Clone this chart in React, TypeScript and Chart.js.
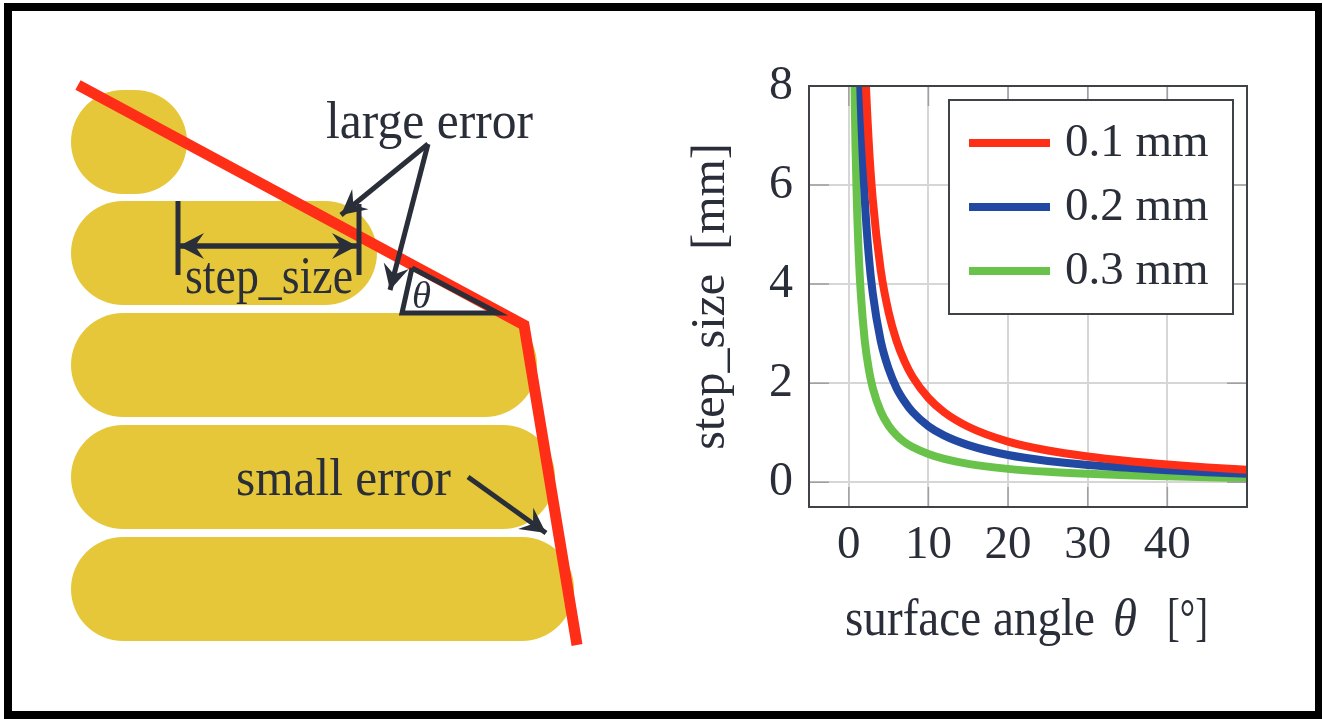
import React, { useEffect, useRef } from "react";
import { Chart, registerables } from "chart.js";

Chart.register(...registerables);

// ---------- right-hand chart data ----------
const angles = [0.5, 0.75, 1, 1.25, 1.5, 2, 2.5, 3, 4, 5, 6, 7, 8, 10, 12, 15, 20, 25, 30, 35, 40, 45, 50];
const seriesRed = [34, 23, 17.2, 13.7, 11.4, 8.6, 6.87, 5.72, 4.29, 3.43, 2.85, 2.44, 2.13, 1.7, 1.41, 1.12, 0.82, 0.64, 0.52, 0.43, 0.36, 0.3, 0.25];
const seriesBlue = [23, 15.3, 11.5, 9.17, 7.64, 5.73, 4.58, 3.82, 2.86, 2.29, 1.9, 1.63, 1.42, 1.13, 0.94, 0.75, 0.55, 0.43, 0.35, 0.29, 0.24, 0.2, 0.17];
const seriesGreen = [11.5, 7.64, 5.73, 4.58, 3.82, 2.86, 2.29, 1.91, 1.43, 1.14, 0.95, 0.81, 0.71, 0.57, 0.47, 0.37, 0.27, 0.21, 0.17, 0.14, 0.12, 0.1, 0.08];
const legendLabels = ["0.1 mm", "0.2 mm", "0.3 mm"];
const xTitleRuns = [
  { text: "surface angle", italic: false, x: 0, width: 250 },
  { text: "\u03B8", italic: true, x: 268, width: 24 },
  { text: "[\u00B0]", italic: false, x: 322, width: 41 },
];
const yTitle = "step_size  [mm]";

// ---------- left-hand diagram data (diagram units) ----------
const beadSpans = [
  { y: 142, x0: 123, x1: 135 },
  { y: 253, x0: 123, x1: 325 },
  { y: 365, x0: 123, x1: 485 },
  { y: 477, x0: 123, x1: 503 },
  { y: 589, x0: 123, x1: 522 },
];
const surfacePath = [{ x: 78, y: 85 }, { x: 524, y: 325 }, { x: 577, y: 645 }];
const stepLeft = [{ x: 178, y: 201 }, { x: 178, y: 275 }];
const stepRight = [{ x: 359, y: 204 }, { x: 359, y: 275 }];
const angleMark = [{ x: 412, y: 268 }, { x: 402, y: 313 }, { x: 498, y: 313 }, { x: 412, y: 268 }];
const arrowSegments = [
  { from: { x: 180, y: 246 }, to: { x: 357, y: 246 } },
  { from: { x: 357, y: 246 }, to: { x: 179, y: 246 } },
  { from: { x: 428, y: 144 }, to: { x: 341, y: 215 } },
  { from: { x: 428, y: 144 }, to: { x: 390, y: 290 } },
  { from: { x: 468, y: 477 }, to: { x: 546, y: 533 } },
];
const diagramLabels = [
  { text: "large error", x: 326, y: 138, width: 207, italic: false },
  { text: "step_size", x: 185, y: 293, width: 168, italic: false },
  { text: "small error", x: 236, y: 495, width: 215, italic: false },
  { text: "\u03B8", x: 412, y: 308, width: 19, italic: true },
];

const INK = "#2a2e38";
const GOLD = "#e6c739";
const RED = "#ff2e17";
const BLUE = "#2149a3";
const GREEN = "#69c24a";
const SERIF = '"Liberation Serif", serif';

const diagramPlugin = {
  id: "diagramDecor",
  afterDatasetsDraw(chart: any) {
    const { ctx, scales } = chart;
    const px = (p: any) => ({ x: scales.x.getPixelForValue(p.x), y: scales.y.getPixelForValue(p.y) });
    ctx.save();
    ctx.fillStyle = INK;
    for (const seg of arrowSegments) {
      const a = px(seg.from);
      const b = px(seg.to);
      const ang = Math.atan2(b.y - a.y, b.x - a.x);
      ctx.save();
      ctx.translate(b.x, b.y);
      ctx.rotate(ang);
      ctx.beginPath();
      ctx.moveTo(0, 0);
      ctx.lineTo(-25, -13);
      ctx.lineTo(-16, 0);
      ctx.lineTo(-25, 13);
      ctx.closePath();
      ctx.fill();
      ctx.restore();
    }
    ctx.textBaseline = "alphabetic";
    ctx.textAlign = "left";
    for (const l of diagramLabels) {
      ctx.font = `${l.italic ? "italic " : ""}${l.italic ? 38 : 53}px ${SERIF}`;
      const w = ctx.measureText(l.text).width;
      const p = px(l);
      ctx.save();
      ctx.translate(p.x, p.y);
      ctx.scale(l.width / w, 1);
      ctx.fillText(l.text, 0, 0);
      ctx.restore();
    }
    ctx.restore();
  },
};

const plotDecor = {
  id: "plotDecor",
  afterDatasetsDraw(chart: any) {
    const { ctx, chartArea: ca, scales } = chart;
    ctx.save();
    ctx.strokeStyle = "#a0a0a0";
    ctx.lineWidth = 1.5;
    ctx.beginPath();
    for (const t of scales.y.ticks) {
      const y = scales.y.getPixelForValue(t.value);
      ctx.moveTo(ca.left, y);
      ctx.lineTo(ca.left + 20, y);
      ctx.moveTo(ca.right, y);
      ctx.lineTo(ca.right - 20, y);
    }
    for (const t of scales.x.ticks) {
      const x = scales.x.getPixelForValue(t.value);
      ctx.moveTo(x, ca.top);
      ctx.lineTo(x, ca.top + 20);
      ctx.moveTo(x, ca.bottom);
      ctx.lineTo(x, ca.bottom - 20);
    }
    ctx.stroke();
    ctx.strokeStyle = "#3f4247";
    ctx.lineWidth = 2;
    ctx.strokeRect(ca.left, ca.top, ca.right - ca.left, ca.bottom - ca.top);

    // legend box
    const bx = ca.left + 140;
    const by = ca.top + 14;
    const bw = 284;
    const bh = 214;
    ctx.fillStyle = "#ffffff";
    ctx.fillRect(bx, by, bw, bh);
    ctx.strokeStyle = "#3f4247";
    ctx.strokeRect(bx, by, bw, bh);
    ctx.font = `47px ${SERIF}`;
    ctx.textBaseline = "alphabetic";
    ctx.textAlign = "left";
    chart.data.datasets.forEach((d: any, i: number) => {
      const ly = by + 43 + i * 64;
      ctx.strokeStyle = d.borderColor;
      ctx.lineWidth = 8;
      ctx.beginPath();
      ctx.moveTo(bx + 20, ly);
      ctx.lineTo(bx + 101, ly);
      ctx.stroke();
      ctx.fillStyle = INK;
      ctx.fillText(legendLabels[i], bx + 116, ly + 13);
    });

    // x axis title, with an italic theta
    const tx = ca.left + 36;
    const ty = ca.bottom + 128;
    ctx.fillStyle = INK;
    for (const run of xTitleRuns) {
      ctx.font = `${run.italic ? "italic " : ""}52px ${SERIF}`;
      const w = ctx.measureText(run.text).width;
      ctx.save();
      ctx.translate(tx + run.x, ty);
      ctx.scale(run.width / w, 1);
      ctx.fillText(run.text, 0, 0);
      ctx.restore();
    }
    ctx.restore();
  },
};

export default function App() {
  const leftRef = useRef<HTMLCanvasElement | null>(null);
  const rightRef = useRef<HTMLCanvasElement | null>(null);

  useEffect(() => {
    const thinLine = (data: any[], width: number, order: number, color = INK) => ({
      data,
      borderColor: color,
      borderWidth: width,
      pointRadius: 0,
      tension: 0,
      order,
      borderCapStyle: "butt",
      borderJoinStyle: "miter",
      clip: false,
    });
    const left = new Chart(leftRef.current as HTMLCanvasElement, {
      type: "line",
      plugins: [diagramPlugin],
      data: {
        datasets: [
          ...arrowSegments.map((s) => thinLine([s.from, s.to], 5, 1)),
          thinLine(angleMark, 5, 1),
          thinLine(surfacePath, 11, 2, RED),
          thinLine(stepLeft, 5, 1),
          thinLine(stepRight, 5, 1),
          ...beadSpans.map((b) => ({
            data: [{ x: b.x0, y: b.y }, { x: b.x1, y: b.y }],
            borderColor: GOLD,
            borderWidth: 104,
            borderCapStyle: "round",
            pointRadius: 0,
            order: 5,
            clip: false,
          })),
        ] as any,
      },
      options: {
        animation: false,
        responsive: false,
        parsing: false,
        layout: { padding: 0 },
        plugins: { legend: { display: false }, tooltip: { enabled: false } },
        scales: {
          x: { type: "linear", display: false, min: 0, max: 660 },
          y: { type: "linear", display: false, min: 0, max: 719, reverse: true },
        },
      } as any,
    });

    const makeSeries = (label: string, values: number[], color: string) => ({
      label,
      data: values.map((v, i) => ({ x: angles[i], y: v })),
      borderColor: color,
      backgroundColor: color,
      borderWidth: 8,
      pointRadius: 0,
      cubicInterpolationMode: "monotone",
    });
    const right = new Chart(rightRef.current as HTMLCanvasElement, {
      type: "line",
      plugins: [plotDecor],
      data: {
        datasets: [
          makeSeries(legendLabels[0], seriesRed, RED),
          makeSeries(legendLabels[1], seriesBlue, BLUE),
          makeSeries(legendLabels[2], seriesGreen, GREEN),
        ] as any,
      },
      options: {
        animation: false,
        responsive: false,
        parsing: false,
        layout: { padding: { left: 43, top: 86, right: 73, bottom: 74 } },
        plugins: { legend: { display: false }, tooltip: { enabled: false } },
        scales: {
          x: {
            type: "linear",
            min: -5,
            max: 50,
            afterFit: (s: any) => { s.height = 138; },
            grid: { color: "#d6d6d6", lineWidth: 2, drawTicks: false },
            border: { display: false },
            ticks: {
              stepSize: 10,
              includeBounds: false,
              autoSkip: false,
              maxRotation: 0,
              padding: 10,
              color: INK,
              font: { family: SERIF, size: 47 },
              callback: (v: any) => (v === 50 ? "" : String(v)),
            },
          },
          y: {
            type: "linear",
            min: -0.5,
            max: 8,
            afterFit: (s: any) => { s.width = 126; },
            grid: { color: "#d6d6d6", lineWidth: 2, drawTicks: false },
            border: { display: false },
            ticks: {
              stepSize: 2,
              includeBounds: false,
              padding: 16,
              color: INK,
              font: { family: SERIF, size: 48 },
            },
            title: {
              display: true,
              text: yTitle,
              color: INK,
              font: { family: SERIF, size: 48 },
              padding: 0,
            },
          },
        },
      } as any,
    });
    return () => {
      left.destroy();
      right.destroy();
    };
  }, []);

  return (
    <div style={{ position: "fixed", left: 0, top: 0, width: 1323, height: 719, background: "#fff", overflow: "hidden" }}>
      <canvas ref={leftRef} width={660} height={719} style={{ position: "absolute", left: 0, top: 0, width: 660, height: 719 }} />
      <canvas ref={rightRef} width={680} height={719} style={{ position: "absolute", left: 640, top: 0, width: 680, height: 719 }} />
      <div style={{ position: "absolute", left: 4, top: 3, width: 1318, height: 716, boxSizing: "border-box", borderStyle: "solid", borderColor: "#000", borderWidth: "8px 7px 8px 8px", pointerEvents: "none" }} />
    </div>
  );
}
